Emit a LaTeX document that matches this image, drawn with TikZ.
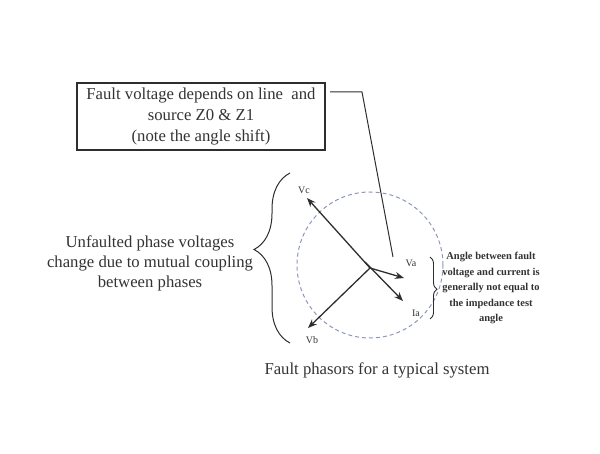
\documentclass[tikz,border=0pt]{standalone}
\usepackage{fontspec}
\setmainfont{Liberation Serif}
\usetikzlibrary{arrows.meta,decorations.pathreplacing}
\definecolor{txt}{HTML}{333333}
\definecolor{ln}{HTML}{2E2E2E}
\definecolor{circ}{HTML}{8E96BE}
\tikzset{
  lbl/.style={font=\fontsize{16.7}{20}\selectfont, text=txt, align=center, inner sep=0pt},
  small/.style={font=\fontsize{10.5}{15.5}\selectfont\bfseries, text=txt, align=center, inner sep=0pt},
  plab/.style={font=\fontsize{10}{12}\selectfont, text=txt, inner sep=0pt},
  phasor/.style={draw=ln, line width=1.3pt, -{Stealth[length=9pt,width=7pt]}},
  leader/.style={draw=ln, line width=1pt},
  bracestyle/.style={draw=ln, line width=1pt, decorate}
}
\begin{document}
\begin{tikzpicture}[x=1pt,y=-1pt]
\useasboundingbox (0,0) rectangle (600,454);
% text box
\node[draw=ln, line width=1.2pt, minimum width=248pt, minimum height=67pt, lbl, font=\fontsize{16.7}{21}\selectfont] (box) at (201,116.5) {Fault voltage depends on line\ \ and\\source Z0 \& Z1\\(note the angle shift)};
% leader
\coordinate (L1) at (330,92);
\coordinate (L2) at (362,92);
\coordinate (L3) at (393,257);
\draw[leader] (L1) -- (L2) -- (L3);
% circle
\node[draw=circ, dashed, dash pattern=on 4pt off 3pt, line width=1pt, circle, minimum size=146pt, inner sep=0pt] (circ) at (370,265) {};
% phasors
\coordinate (O) at (370,268);
\coordinate (Vc) at (307,198);
\coordinate (Va) at (404,278);
\coordinate (Ia) at (403,301);
\coordinate (Vb) at (308,328);
\draw[phasor] (O) -- (Vc);
\draw[phasor] (O) -- (Va);
\draw[phasor] (365,262) -- (Ia);
\draw[phasor] (O) -- (Vb);
\node[plab] (lvc) at (304,190) {Vc};
\node[plab] (lva) at (411,263) {Va};
\node[plab] (lia) at (416,313) {Ia};
\node[plab] (lvb) at (312,340) {Vb};
% left brace and text
\coordinate (B1) at (290,343);
\coordinate (B2) at (290,173);
\draw[bracestyle, decoration={brace, amplitude=36pt, aspect=0.55}] (B1) -- (B2);
\node[lbl] (left) at (150,263) {Unfaulted phase voltages\\change due to mutual coupling\\between phases};
% right brace and text
\coordinate (R1) at (430,257);
\coordinate (R2) at (430,319);
\draw[bracestyle, line width=0.9pt, decoration={brace, amplitude=7pt, aspect=0.52}] (R1) -- (R2);
\node[small] (right) at (491,288) {Angle between fault\\voltage and current is\\generally not equal to\\the impedance test\\angle};
% caption
\node[lbl] (cap) at (377,370) {Fault phasors for a typical system};
\end{tikzpicture}
\end{document}
